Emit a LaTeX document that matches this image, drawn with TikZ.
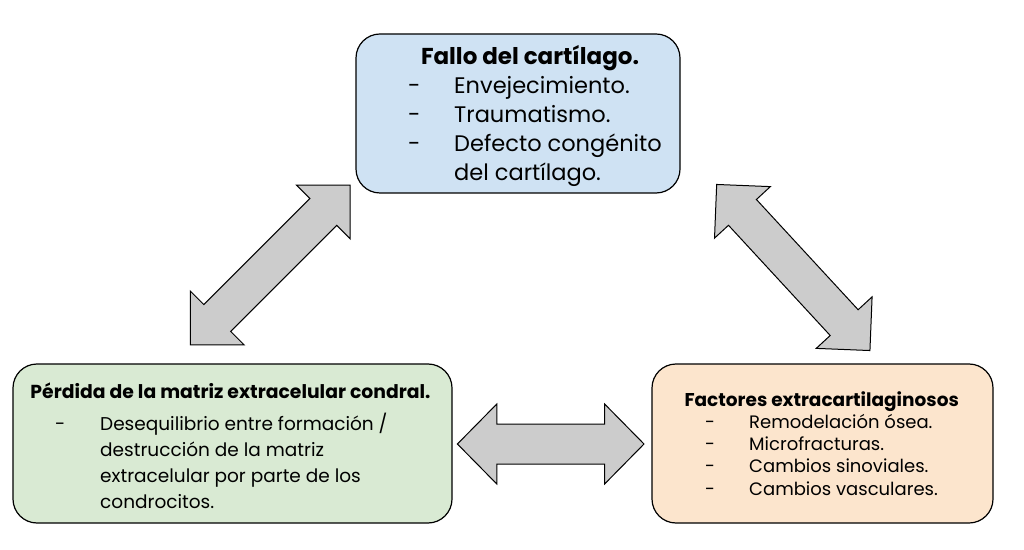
\documentclass[tikz,border=0pt]{standalone}
\usepackage{fontspec}
\setmainfont{Poppins}

\definecolor{boxblue}{HTML}{CFE2F3}
\definecolor{boxgreen}{HTML}{D9EAD3}
\definecolor{boxorange}{HTML}{FCE5CD}
\definecolor{arrowgray}{HTML}{CCCCCC}

\tikzset{
  box/.style={draw=black, line width=1.2pt, rounded corners=24pt, inner sep=0pt, minimum height=159pt},
  blockarrow/.style={draw=black, fill=arrowgray, line width=1pt, line join=miter},
  boxtitle/.style={anchor=base, inner sep=0pt},
  boxlist/.style={anchor=base west, inner sep=0pt, align=left},
}

\begin{document}
\begin{tikzpicture}[x=1pt,y=1pt]
	\useasboundingbox (0,0) rectangle (1024,549);
	% the three boxes
	\node[box, fill=boxblue, minimum width=324pt] (fallo) at (518,435.5) {};
	\node[box, fill=boxgreen, minimum width=439pt] (perdida) at (232.5,105.5) {};
	\node[box, fill=boxorange, minimum width=341pt] (factores) at (822.5,105.5) {};
	% texts
	\node[boxtitle, font=\fontsize{23}{27}\selectfont\bfseries] (falloT) at (530,484) {Fallo del cartílago.};
	\node[boxlist, font=\fontsize{22.5}{29}\selectfont] (falloL) at (408,455.7) {\begin{tabular}[t]{@{}p{46pt}@{}l@{}}
		- & Envejecimiento.\\
		- & Traumatismo.\\
		- & Defecto congénito\\
		  & del cartílago.
	\end{tabular}};
	\node[boxtitle, font=\fontsize{18.8}{22}\selectfont\bfseries] (perdidaT) at (230.5,150.7) {Pérdida de la matriz extracelular condral.};
	\node[boxlist, font=\fontsize{18.5}{26.3}\selectfont] (perdidaL) at (55,119) {\begin{tabular}[t]{@{}p{45pt}@{}l@{}}
		- & Desequilibrio entre formación /\\
		  & destrucción de la matriz\\
		  & extracelular por parte de los\\
		  & condrocitos.
	\end{tabular}};
	\node[boxtitle, font=\fontsize{18.5}{22}\selectfont\bfseries] (factoresT) at (821.7,142.3) {Factores extracartilaginosos};
	\node[boxlist, font=\fontsize{18}{22.3}\selectfont] (factoresL) at (705,120.7) {\begin{tabular}[t]{@{}p{44pt}@{}l@{}}
		- & Remodelación ósea.\\
		- & Microfracturas.\\
		- & Cambios sinoviales.\\
		- & Cambios vasculares.
	\end{tabular}};
	% block arrows between the boxes
	\coordinate (arrFP) at (270.3,284);
	\coordinate (arrFF) at (793.3,281.5);
	\coordinate (arrPF) at (550.7,105);
	\begin{scope}[shift={(arrFP)},rotate=45]
		\draw[blockarrow] (-113,0)--(-75,38)--(-75,19)--(75,19)--(75,38)--(113,0)--(75,-38)--(75,-19)--(-75,-19)--(-75,-38)--cycle;
	\end{scope}
	\begin{scope}[shift={(arrFF)},rotate=-47.3]
		\draw[blockarrow] (-113,0)--(-75,38)--(-75,19)--(75,19)--(75,38)--(113,0)--(75,-38)--(75,-19)--(-75,-19)--(-75,-38)--cycle;
	\end{scope}
	\begin{scope}[shift={(arrPF)}]
		\draw[blockarrow] (-93.3,0)--(-53.9,40)--(-53.9,20)--(53.9,20)--(53.9,40)--(93.3,0)--(53.9,-40)--(53.9,-20)--(-53.9,-20)--(-53.9,-40)--cycle;
	\end{scope}
\end{tikzpicture}
\end{document}
